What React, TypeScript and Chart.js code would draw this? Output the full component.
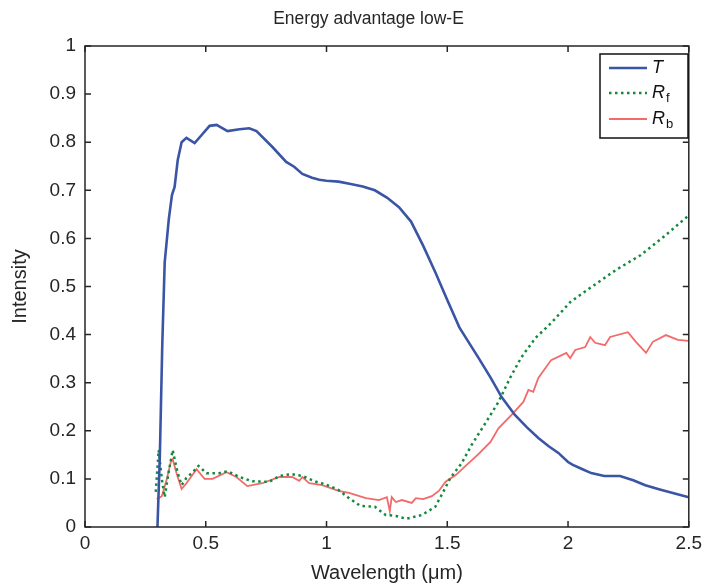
import React, { useEffect, useRef } from "react";
import { Chart, registerables } from "chart.js";

Chart.register(...registerables);

const titleText = "Energy advantage low-E";
const xAxisTitle = "Wavelength (\u03bcm)";
const yAxisTitle = "Intensity";

const xTickValues = [0, 0.5, 1, 1.5, 2, 2.5];
const xTickLabels = ["0", "0.5", "1", "1.5", "2", "2.5"];
const yTickValues = [0, 0.1, 0.2, 0.3, 0.4, 0.5, 0.6, 0.7, 0.8, 0.9, 1];
const yTickLabels = ["0", "0.1", "0.2", "0.3", "0.4", "0.5", "0.6", "0.7", "0.8", "0.9", "1"];

// T (transmittance)
const tX = [0.30, 0.31, 0.32, 0.33, 0.347, 0.36, 0.371, 0.384, 0.40, 0.42, 0.454, 0.483, 0.516, 0.545, 0.59, 0.64, 0.68, 0.71, 0.776, 0.833, 0.866, 0.9, 0.94, 0.97, 1.0, 1.05, 1.1, 1.15, 1.2, 1.25, 1.3, 1.35, 1.4, 1.45, 1.5, 1.55, 1.6, 1.63, 1.68, 1.725, 1.78, 1.83, 1.877, 1.92, 1.96, 2.0, 2.02, 2.06, 2.096, 2.15, 2.215, 2.27, 2.32, 2.38, 2.43, 2.5];
const tY = [0.0, 0.15, 0.38, 0.55, 0.64, 0.69, 0.707, 0.763, 0.80, 0.809, 0.798, 0.815, 0.834, 0.836, 0.823, 0.827, 0.829, 0.823, 0.79, 0.759, 0.749, 0.734, 0.726, 0.722, 0.72, 0.718, 0.713, 0.708, 0.70, 0.685, 0.665, 0.635, 0.585, 0.53, 0.472, 0.415, 0.375, 0.351, 0.31, 0.27, 0.233, 0.207, 0.185, 0.168, 0.154, 0.135, 0.129, 0.12, 0.112, 0.106, 0.106, 0.097, 0.087, 0.078, 0.071, 0.062];

// R_f (front reflectance)
const rfX = [0.293, 0.305, 0.318, 0.33, 0.345, 0.363, 0.384, 0.40, 0.42, 0.446, 0.47, 0.503, 0.557, 0.59, 0.64, 0.693, 0.763, 0.805, 0.854, 0.9, 0.957, 1.0, 1.05, 1.093, 1.14, 1.2, 1.245, 1.287, 1.33, 1.395, 1.45, 1.477, 1.513, 1.56, 1.6, 1.658, 1.712, 1.76, 1.807, 1.865, 1.93, 2.01, 2.1, 2.2, 2.3, 2.4, 2.5];
const rfY = [0.073, 0.16, 0.10, 0.062, 0.11, 0.16, 0.112, 0.087, 0.102, 0.114, 0.127, 0.112, 0.112, 0.116, 0.104, 0.095, 0.094, 0.106, 0.11, 0.106, 0.094, 0.088, 0.077, 0.06, 0.044, 0.042, 0.025, 0.023, 0.017, 0.025, 0.042, 0.067, 0.102, 0.133, 0.17, 0.216, 0.26, 0.31, 0.353, 0.393, 0.424, 0.468, 0.50, 0.535, 0.565, 0.605, 0.648];

// R_b (back reflectance)
const rbX = [0.297, 0.318, 0.338, 0.355, 0.363, 0.38, 0.40, 0.42, 0.462, 0.495, 0.528, 0.586, 0.627, 0.672, 0.734, 0.805, 0.858, 0.887, 0.9, 0.928, 0.982, 1.05, 1.093, 1.163, 1.217, 1.25, 1.262, 1.27, 1.287, 1.312, 1.353, 1.37, 1.40, 1.436, 1.465, 1.493, 1.535, 1.576, 1.63, 1.679, 1.712, 1.766, 1.815, 1.836, 1.856, 1.877, 1.93, 1.993, 2.009, 2.03, 2.071, 2.092, 2.112, 2.153, 2.174, 2.248, 2.281, 2.323, 2.351, 2.405, 2.455, 2.5];
const rbY = [0.058, 0.064, 0.098, 0.135, 0.141, 0.11, 0.079, 0.091, 0.12, 0.10, 0.10, 0.114, 0.104, 0.085, 0.091, 0.104, 0.104, 0.096, 0.104, 0.091, 0.087, 0.075, 0.071, 0.06, 0.056, 0.062, 0.033, 0.062, 0.052, 0.056, 0.05, 0.06, 0.058, 0.064, 0.075, 0.094, 0.108, 0.127, 0.152, 0.177, 0.205, 0.233, 0.26, 0.285, 0.281, 0.31, 0.347, 0.362, 0.351, 0.368, 0.374, 0.395, 0.383, 0.378, 0.395, 0.405, 0.385, 0.362, 0.385, 0.399, 0.389, 0.387];

const FONT = "'Liberation Sans', Arial, Helvetica, sans-serif";
const AXIS_COLOR = "#262626";
const T_COLOR = "#3a55a5";
const RF_COLOR = "#128a3c";
const RB_COLOR = "rgba(240,80,80,0.85)";

const toPts = (xs: number[], ys: number[]) => xs.map((x, i) => ({ x, y: ys[i] }));

const framePlugin = {
  id: "frame",
  afterDatasetsDraw(chart: any) {
    const { ctx, chartArea } = chart;
    const { left, right, top, bottom } = chartArea;
    const xs = chart.scales.x;
    const ys = chart.scales.y;
    ctx.save();

    // title
    ctx.fillStyle = AXIS_COLOR;
    ctx.font = `17.5px ${FONT}`;
    ctx.textAlign = "center";
    ctx.textBaseline = "middle";
    ctx.fillText(titleText, 368.5, 19);

    ctx.strokeStyle = AXIS_COLOR;
    ctx.lineWidth = 1.5;
    ctx.strokeRect(left, top, right - left, bottom - top);
    const tl = 6;
    ctx.beginPath();
    xTickValues.forEach((v) => {
      const p = xs.getPixelForValue(v);
      ctx.moveTo(p, bottom);
      ctx.lineTo(p, bottom - tl);
      ctx.moveTo(p, top);
      ctx.lineTo(p, top + tl);
    });
    yTickValues.forEach((v) => {
      const p = ys.getPixelForValue(v);
      ctx.moveTo(left, p);
      ctx.lineTo(left + tl, p);
      ctx.moveTo(right, p);
      ctx.lineTo(right - tl, p);
    });
    ctx.stroke();

    // legend
    const bx = 600, by = 54, bw = 88, bh = 84;
    ctx.fillStyle = "#ffffff";
    ctx.fillRect(bx, by, bw, bh);
    ctx.lineWidth = 1.5;
    ctx.strokeStyle = "#111111";
    ctx.strokeRect(bx, by, bw, bh);
    const items = [
      { main: "T", sub: "", color: T_COLOR, dash: [] as number[], width: 2.5, y: 68 },
      { main: "R", sub: "f", color: RF_COLOR, dash: [2.5, 3.5], width: 2.5, y: 93 },
      { main: "R", sub: "b", color: RB_COLOR, dash: [] as number[], width: 2, y: 119 },
    ];
    items.forEach((it) => {
      ctx.save();
      ctx.strokeStyle = it.color;
      ctx.lineWidth = it.width;
      ctx.setLineDash(it.dash);
      ctx.beginPath();
      ctx.moveTo(609, it.y);
      ctx.lineTo(647, it.y);
      ctx.stroke();
      ctx.restore();
      ctx.fillStyle = "#111111";
      ctx.textBaseline = "middle";
      ctx.textAlign = "left";
      ctx.font = `italic 18px ${FONT}`;
      ctx.fillText(it.main, 652, it.y);
      if (it.sub) {
        const w = ctx.measureText(it.main).width;
        ctx.font = `13px ${FONT}`;
        ctx.fillText(it.sub, 652 + w + 1, it.y + 5);
      }
    });
    ctx.restore();
  },
};

export default function App() {
  const canvasRef = useRef<HTMLCanvasElement | null>(null);

  useEffect(() => {
    const canvas = canvasRef.current;
    if (!canvas) return;
    const chart = new Chart(canvas, {
      type: "line",
      data: {
        datasets: [
          {
            label: "T",
            data: toPts(tX, tY),
            borderColor: T_COLOR,
            borderWidth: 2.6,
            pointRadius: 0,
            fill: false,
          },
          {
            label: "Rf",
            data: toPts(rfX, rfY),
            borderColor: RF_COLOR,
            borderWidth: 2.5,
            borderDash: [2.5, 3.5],
            pointRadius: 0,
            fill: false,
          },
          {
            label: "Rb",
            data: toPts(rbX, rbY),
            borderColor: RB_COLOR,
            borderWidth: 1.8,
            pointRadius: 0,
            fill: false,
          },
        ],
      },
      options: {
        responsive: false,
        animation: false,
        devicePixelRatio: 1,
        layout: { padding: { left: 0, right: 16, top: 46, bottom: 0 } },
        plugins: {
          legend: { display: false },
          tooltip: { enabled: false },
          title: { display: false },
        },
        scales: {
          x: {
            type: "linear",
            min: 0,
            max: 2.5,
            afterBuildTicks: (scale: any) => {
              scale.ticks = xTickValues.map((v) => ({ value: v }));
            },
            afterFit: (scale: any) => {
              scale.height = 58;
            },
            grid: { display: false, drawTicks: false },
            border: { display: false },
            ticks: {
              color: AXIS_COLOR,
              font: { family: FONT, size: 19 },
              padding: 5,
              maxRotation: 0,
              callback: (_v: any, i: number) => xTickLabels[i],
            },
            title: {
              display: true,
              text: xAxisTitle,
              color: AXIS_COLOR,
              font: { family: FONT, size: 20 },
              padding: { top: 0, bottom: 0 },
            },
          },
          y: {
            type: "linear",
            min: 0,
            max: 1,
            afterBuildTicks: (scale: any) => {
              scale.ticks = yTickValues.map((v) => ({ value: v }));
            },
            afterFit: (scale: any) => {
              scale.width = 85;
            },
            grid: { display: false, drawTicks: false },
            border: { display: false },
            ticks: {
              color: AXIS_COLOR,
              font: { family: FONT, size: 19 },
              padding: 9,
              callback: (_v: any, i: number) => yTickLabels[i],
            },
            title: {
              display: true,
              text: yAxisTitle,
              color: AXIS_COLOR,
              font: { family: FONT, size: 20 },
              padding: { top: 8, bottom: 0 },
            },
          },
        },
      },
      plugins: [framePlugin],
    });
    return () => chart.destroy();
  }, []);

  return (
    <div style={{ position: "absolute", left: 0, top: 0, width: 707, height: 585, background: "#fff" }}>
      <canvas ref={canvasRef} width={707} height={585} style={{ display: "block", width: 707, height: 585 }} />
    </div>
  );
}
